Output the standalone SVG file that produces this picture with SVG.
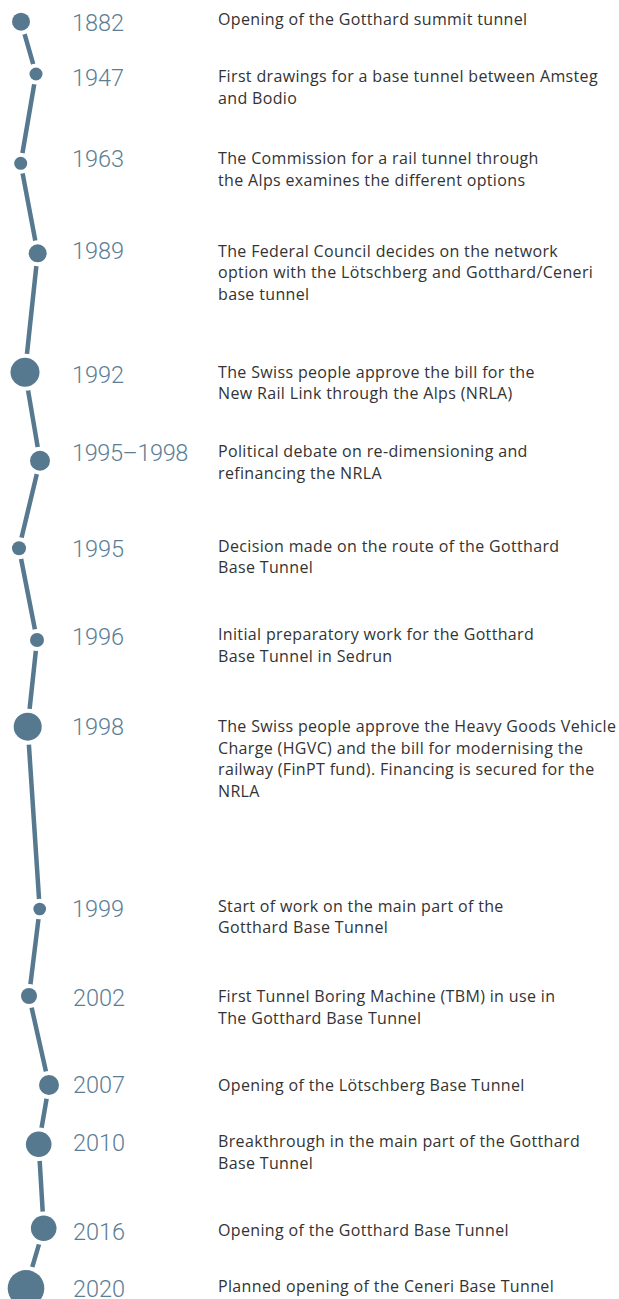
<svg xmlns="http://www.w3.org/2000/svg" width="619" height="1299" viewBox="0 0 619 1299">
<style>
.yr{font-family:Roboto,"Liberation Sans",sans-serif;font-weight:300;font-size:23.5px;fill:#5b7e95}
.ds{font-family:"Open Sans","Liberation Sans",sans-serif;font-weight:400;font-size:16px;letter-spacing:0.35px;fill:#333333}
.dot{fill:#57798f;stroke:#ffffff;stroke-width:8;paint-order:stroke fill}
.ln{fill:none;stroke:#57798f;stroke-width:4.5;stroke-linejoin:miter}
</style>
<rect width="619" height="1299" fill="#ffffff"/>
<g id="connectors">
<polyline class="ln" points="21,21.7 36,74 20.7,163.3 37.7,253.3 25,372.3 40,460.7 19,548.3 37,640 27.7,726.7 39.7,909 29,996 49,1085 38.7,1144.3 43.7,1228.3 26,1288.3"/>
</g>
<g id="n1882"><circle class="dot" cx="21" cy="21.7" r="9"/><text class="yr" x="72" y="30.7">1882</text><text class="ds" x="218" y="25">Opening of the Gotthard summit tunnel</text></g>
<g id="n1947"><circle class="dot" cx="36" cy="74" r="6.5"/><text class="yr" x="72" y="86">1947</text><text class="ds" x="218" y="82.3">First drawings for a base tunnel between Amsteg<tspan x="218" dy="21.7">and Bodio</tspan></text></g>
<g id="n1963"><circle class="dot" cx="20.7" cy="163.3" r="6.5"/><text class="yr" x="72" y="166.7">1963</text><text class="ds" x="218" y="164">The Commission for a rail tunnel through<tspan x="218" dy="21.7">the Alps examines the different options</tspan></text></g>
<g id="n1989"><circle class="dot" cx="37.7" cy="253.3" r="9"/><text class="yr" x="72" y="259.3">1989</text><text class="ds" x="218" y="256.7">The Federal Council decides on the network<tspan x="218" dy="21.7">option with the Lötschberg and Gotthard/Ceneri</tspan><tspan x="218" dy="21.7">base tunnel</tspan></text></g>
<g id="n1992"><circle class="dot" cx="25" cy="372.3" r="14.5"/><text class="yr" x="72" y="382.7">1992</text><text class="ds" x="218" y="377.7">The Swiss people approve the bill for the<tspan x="218" dy="21.7">New Rail Link through the Alps (NRLA)</tspan></text></g>
<g id="n1995-1998"><circle class="dot" cx="40" cy="460.7" r="10"/><text class="yr" x="72" y="461" letter-spacing="-0.4">1995–1998</text><text class="ds" x="218" y="457.3">Political debate on re-dimensioning and<tspan x="218" dy="21.7">refinancing the NRLA</tspan></text></g>
<g id="n1995"><circle class="dot" cx="19" cy="548.3" r="7"/><text class="yr" x="72" y="556.7">1995</text><text class="ds" x="218" y="551.7">Decision made on the route of the Gotthard<tspan x="218" dy="21.7">Base Tunnel</tspan></text></g>
<g id="n1996"><circle class="dot" cx="37" cy="640" r="7"/><text class="yr" x="72" y="645">1996</text><text class="ds" x="218" y="640">Initial preparatory work for the Gotthard<tspan x="218" dy="21.7">Base Tunnel in Sedrun</tspan></text></g>
<g id="n1998"><circle class="dot" cx="27.7" cy="726.7" r="14"/><text class="yr" x="72" y="735">1998</text><text class="ds" x="218" y="732.3">The Swiss people approve the Heavy Goods Vehicle<tspan x="218" dy="21.5">Charge (HGVC) and the bill for modernising the</tspan><tspan x="218" dy="21.5">railway (FinPT fund). Financing is secured for the</tspan><tspan x="218" dy="21.5">NRLA</tspan></text></g>
<g id="n1999"><circle class="dot" cx="39.7" cy="909" r="6.3"/><text class="yr" x="72" y="917.3">1999</text><text class="ds" x="218" y="911.7">Start of work on the main part of the<tspan x="218" dy="21.7">Gotthard Base Tunnel</tspan></text></g>
<g id="n2002"><circle class="dot" cx="29" cy="996" r="8"/><text class="yr" x="73" y="1006">2002</text><text class="ds" x="218" y="1002.3">First Tunnel Boring Machine (TBM) in use in<tspan x="218" dy="21.7">The Gotthard Base Tunnel</tspan></text></g>
<g id="n2007"><circle class="dot" cx="49" cy="1085" r="10"/><text class="yr" x="73" y="1093.3">2007</text><text class="ds" x="218" y="1090.7">Opening of the Lötschberg Base Tunnel</text></g>
<g id="n2010"><circle class="dot" cx="38.7" cy="1144.3" r="12.8"/><text class="yr" x="73" y="1151">2010</text><text class="ds" x="218" y="1147.3">Breakthrough in the main part of the Gotthard<tspan x="218" dy="21.7">Base Tunnel</tspan></text></g>
<g id="n2016"><circle class="dot" cx="43.7" cy="1228.3" r="12.8"/><text class="yr" x="73" y="1240">2016</text><text class="ds" x="218" y="1236">Opening of the Gotthard Base Tunnel</text></g>
<g id="n2020"><circle class="dot" cx="26" cy="1288.3" r="18.3"/><text class="yr" x="73" y="1296.7">2020</text><text class="ds" x="218" y="1292.3">Planned opening of the Ceneri Base Tunnel</text></g>
</svg>
